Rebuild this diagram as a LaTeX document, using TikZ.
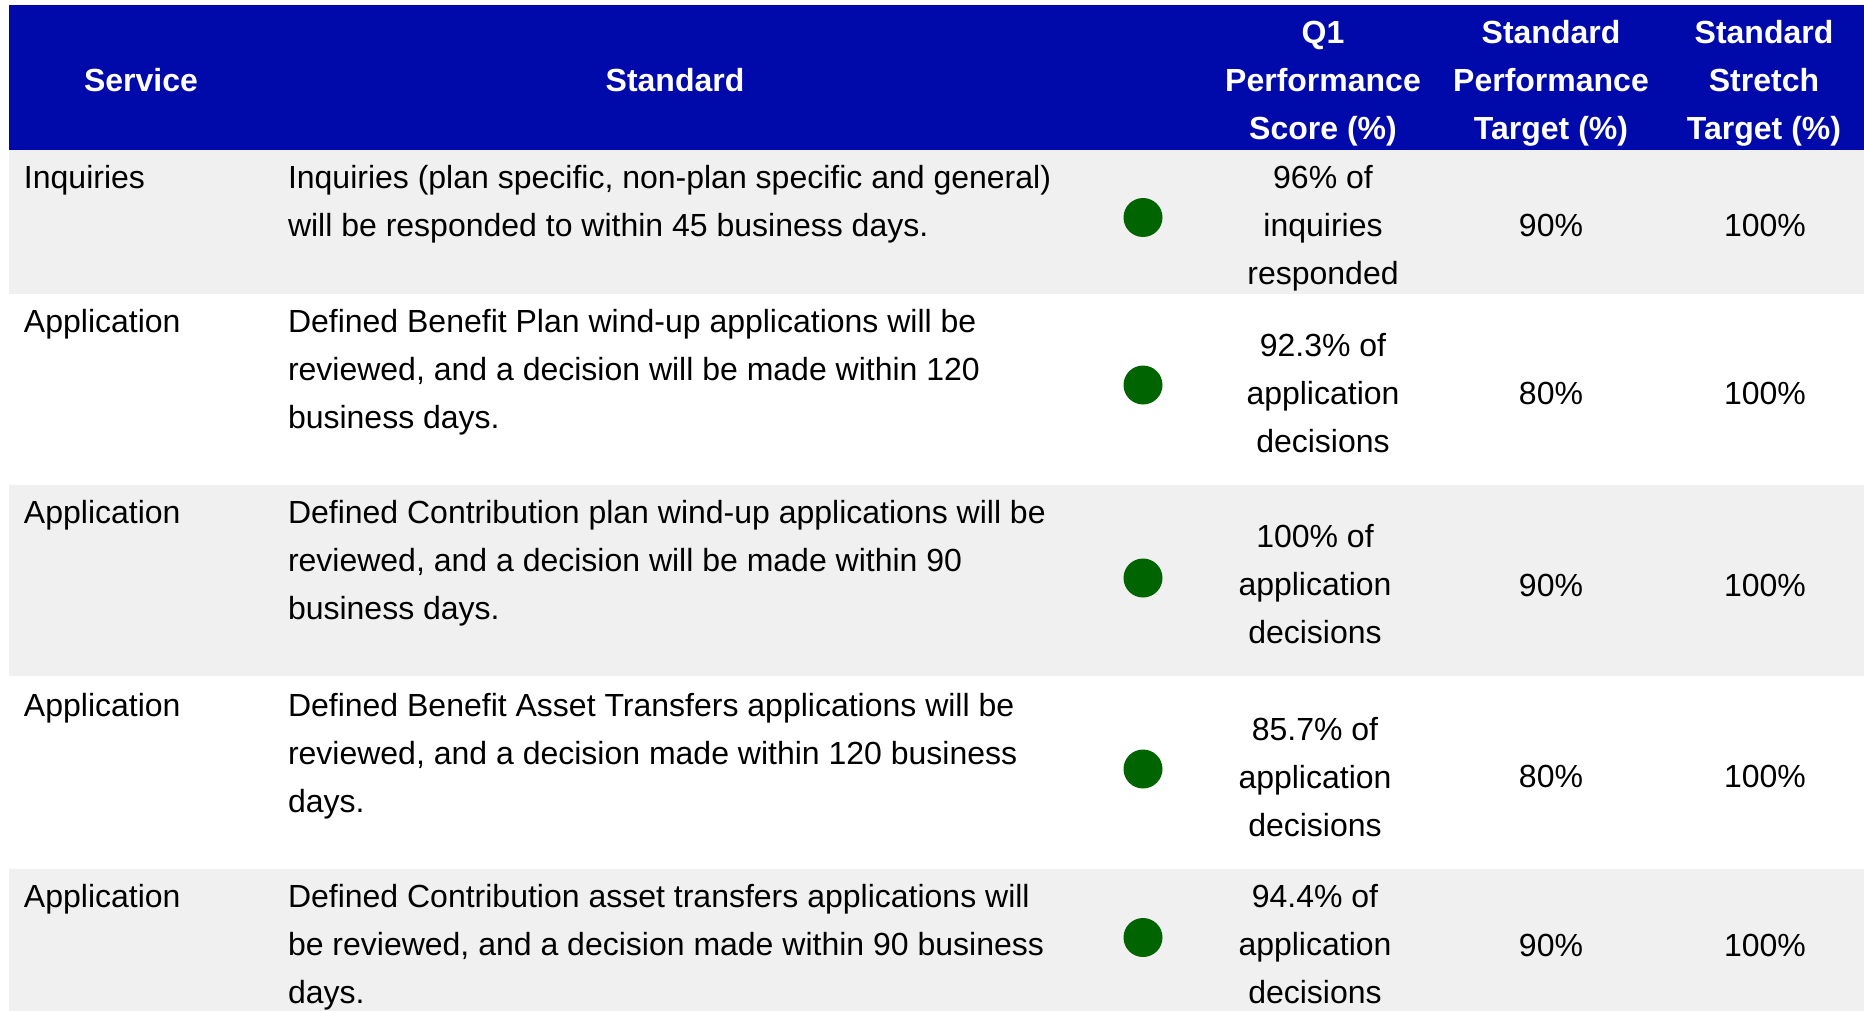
\documentclass[tikz,border=0pt]{standalone}
\usepackage{fontspec}
\setmainfont{Liberation Sans}
\definecolor{hdrblue}{RGB}{0,10,170}
\definecolor{rowgray}{RGB}{240,240,240}
\definecolor{dotgreen}{RGB}{0,100,0}
\newcommand{\Lft}[1]{\vtop{\baselineskip=24pt\halign{##\hfil\cr #1\crcr}}}
\newcommand{\Ctr}[1]{\vtop{\baselineskip=24pt\halign{\hfil##\hfil\cr #1\crcr}}}
\begin{document}
\begin{tikzpicture}[x=0.5pt,y=-0.5pt,
  txt/.style={inner sep=0pt,outer sep=0pt,font=\fontsize{16pt}{24pt}\selectfont,text=black},
  lcell/.style={txt,anchor=base west},
  ccell/.style={txt,anchor=base},
  hcell/.style={txt,anchor=base,text=white,font=\fontsize{16pt}{24pt}\selectfont\bfseries},
  dot/.style={circle,fill=dotgreen,draw=none,inner sep=0pt,minimum size=19.5pt}]
\useasboundingbox (0,0) rectangle (1864,1011);
\fill[white] (0,0) rectangle (1864,1011);
% header and row backgrounds
\fill[hdrblue] (9,5) rectangle (1864,150);
\fill[rowgray] (9,150) rectangle (1864,294);
\fill[rowgray] (9,485) rectangle (1864,676);
\fill[rowgray] (9,869) rectangle (1864,1011);
% header
\node[hcell] (hs) at (141,92) {Service};
\node[hcell] (hst) at (675,92) {Standard};
\node[hcell] (hq) at (1323,43.5) {\Ctr{Q1\cr Performance\cr Score (\%)}};
\node[hcell] (hp) at (1551,43.5) {\Ctr{Standard\cr Performance\cr Target (\%)}};
\node[hcell] (hx) at (1764,43.5) {\Ctr{Standard\cr Stretch\cr Target (\%)}};
% row 1
\node[lcell] (s1) at (24,188.5) {Inquiries};
\node[lcell] (t1) at (288,188.5) {\Lft{Inquiries (plan specific, non-plan specific and general)\cr will be responded to within 45 business days.}};
\node[dot] (d1) at (1143,217.5) {};
\node[ccell] (q1) at (1323,188.5) {\Ctr{96\% of\cr inquiries\cr responded}};
\node[ccell] (p1) at (1551,236) {90\%};
\node[ccell] (x1) at (1765,236) {100\%};
% row 2
\node[lcell] (s2) at (24,332.5) {Application};
\node[lcell] (t2) at (288,332.5) {\Lft{Defined Benefit Plan wind-up applications will be\cr reviewed, and a decision will be made within 120\cr business days.}};
\node[dot] (d2) at (1143,385) {};
\node[ccell] (q2) at (1323,356.5) {\Ctr{92.3\% of\cr application\cr decisions}};
\node[ccell] (p2) at (1551,404.5) {80\%};
\node[ccell] (x2) at (1765,404.5) {100\%};
% row 3
\node[lcell] (s3) at (24,523.5) {Application};
\node[lcell] (t3) at (288,523.5) {\Lft{Defined Contribution plan wind-up applications will be\cr reviewed, and a decision will be made within 90\cr business days.}};
\node[dot] (d3) at (1143,578) {};
\node[ccell] (q3) at (1315,547.5) {\Ctr{100\% of\cr application\cr decisions}};
\node[ccell] (p3) at (1551,596) {90\%};
\node[ccell] (x3) at (1765,596) {100\%};
% row 4
\node[lcell] (s4) at (24,716.5) {Application};
\node[lcell] (t4) at (288,716.5) {\Lft{Defined Benefit Asset Transfers applications will be\cr reviewed, and a decision made within 120 business\cr days.}};
\node[dot] (d4) at (1143,769) {};
\node[ccell] (q4) at (1315,740.5) {\Ctr{85.7\% of\cr application\cr decisions}};
\node[ccell] (p4) at (1551,787.5) {80\%};
\node[ccell] (x4) at (1765,787.5) {100\%};
% row 5
\node[lcell] (s5) at (24,907.5) {Application};
\node[lcell] (t5) at (288,907.5) {\Lft{Defined Contribution asset transfers applications will\cr be reviewed, and a decision made within 90 business\cr days.}};
\node[dot] (d5) at (1143,937.5) {};
\node[ccell] (q5) at (1315,907.5) {\Ctr{94.4\% of\cr application\cr decisions}};
\node[ccell] (p5) at (1551,956) {90\%};
\node[ccell] (x5) at (1765,956) {100\%};
\end{tikzpicture}
\end{document}
